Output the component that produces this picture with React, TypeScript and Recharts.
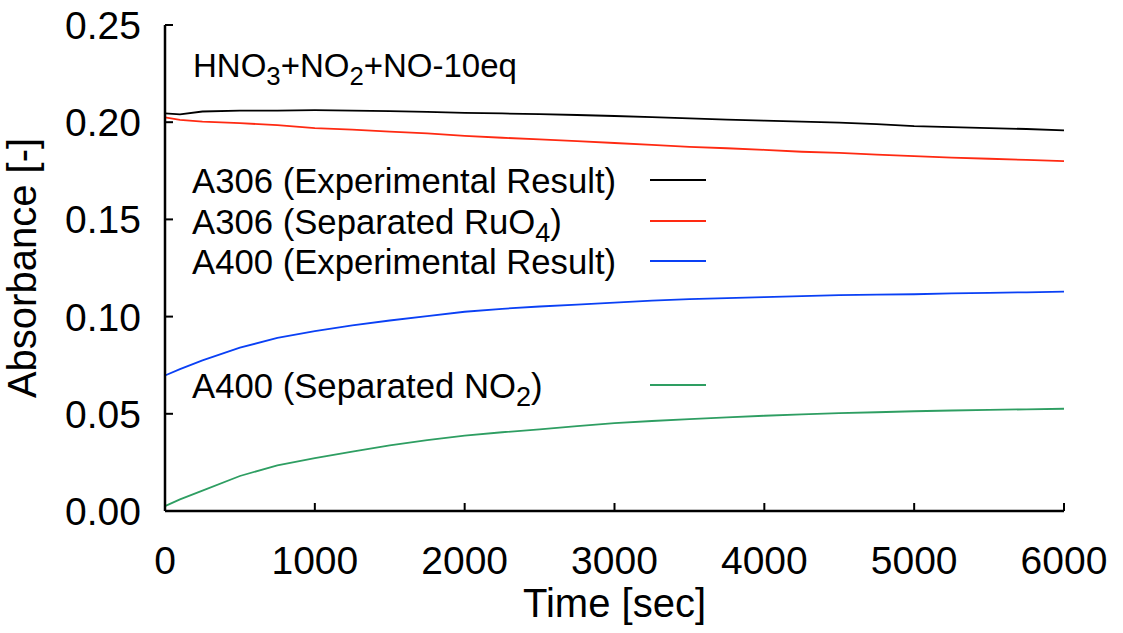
import { LineChart, Line, XAxis, YAxis, Legend } from 'recharts';

const times = [0, 100, 250, 500, 750, 1000, 1250, 1500, 1750, 2000, 2250, 2500, 2750, 3000, 3250, 3500, 3750, 4000, 4250, 4500, 4750, 5000, 5250, 5500, 5750, 6000];

const a306Exp = [0.2045, 0.2040, 0.2055, 0.2060, 0.2060, 0.2062, 0.2060, 0.2057, 0.2053, 0.2048, 0.2045, 0.2042, 0.2037, 0.2032, 0.2026, 0.2020, 0.2013, 0.2008, 0.2003, 0.1998, 0.1990, 0.1980, 0.1975, 0.1970, 0.1965, 0.1958];
const a306RuO4 = [0.2025, 0.2012, 0.2003, 0.1995, 0.1985, 0.1970, 0.1962, 0.1952, 0.1942, 0.1930, 0.1920, 0.1912, 0.1903, 0.1893, 0.1883, 0.1873, 0.1866, 0.1858, 0.1848, 0.1842, 0.1833, 0.1825, 0.1818, 0.1812, 0.1806, 0.1800];
const a400Exp = [0.0697, 0.0730, 0.0775, 0.0840, 0.0890, 0.0925, 0.0955, 0.0980, 0.1002, 0.1025, 0.1040, 0.1052, 0.1062, 0.1072, 0.1082, 0.1090, 0.1095, 0.1100, 0.1105, 0.1110, 0.1113, 0.1115, 0.1119, 0.1122, 0.1125, 0.1128];
const a400NO2 = [0.0025, 0.0060, 0.0105, 0.0180, 0.0235, 0.0272, 0.0305, 0.0338, 0.0365, 0.0388, 0.0405, 0.0420, 0.0437, 0.0452, 0.0463, 0.0473, 0.0482, 0.0490, 0.0497, 0.0503, 0.0508, 0.0513, 0.0517, 0.0520, 0.0523, 0.0526];

const xTicks = [0, 1000, 2000, 3000, 4000, 5000, 6000];
const yTicks = [0, 0.05, 0.1, 0.15, 0.2, 0.25];

const title = 'HNO3+NO2+NO-10eq';

const series = [
  { key: 'a306Exp', name: 'A306 (Experimental Result)', color: '#000000' },
  { key: 'a306RuO4', name: 'A306 (Separated RuO4)', color: '#ff2a12' },
  { key: 'a400Exp', name: 'A400 (Experimental Result)', color: '#0a40f5' },
  { key: 'a400NO2', name: 'A400 (Separated NO2)', color: '#2e9e62' },
];

const data = times.map((t, i) => ({
  t,
  a306Exp: a306Exp[i],
  a306RuO4: a306RuO4[i],
  a400Exp: a400Exp[i],
  a400NO2: a400NO2[i],
}));

// legend row baselines (px, within the chart)
const legendRows = [193, 234, 274, 398];

// "O" followed by a digit -> subscript digit
function subText(text: string, size: number) {
  const parts = text.split(/(?<=O)(\d)/g).filter((p) => p !== '');
  let shift = 0;
  return parts.map((p, i) => {
    const isSub = /^\d$/.test(p) && i > 0 && parts[i - 1].endsWith('O');
    const dy = isSub ? 8 : -shift;
    shift = isSub ? 8 : 0;
    return (
      <tspan key={i} dy={dy || undefined} fontSize={isSub ? size * 0.78 : undefined}>
        {p}
      </tspan>
    );
  });
}

const BottomTick = ({ x, y, payload }: any) => (
  <g>
    <line x1={x} x2={x} y1={y} y2={y - 8} stroke="#000" strokeWidth={2} />
    <text x={x} y={y + 63} textAnchor="middle" fontSize={39} fill="#000">
      {payload.value}
    </text>
  </g>
);

const LeftTick = ({ x, y, payload }: any) => (
  <g>
    <line x1={x} x2={x + 8} y1={y} y2={y} stroke="#000" strokeWidth={2} />
    <text x={x - 24} y={y + 14} textAnchor="end" fontSize={39} fill="#000">
      {payload.value.toFixed(2)}
    </text>
  </g>
);

const TopTick = ({ x, y }: any) => (
  <line x1={x} x2={x} y1={y} y2={y + 8} stroke="#000" strokeWidth={2} />
);

const RightTick = ({ x, y }: any) => (
  <line x1={x} x2={x - 8} y1={y} y2={y} stroke="#000" strokeWidth={2} />
);

const renderLegend = (props: any) => {
  const payload = props.payload || [];
  return (
    <svg width={1123} height={633} style={{ position: 'absolute', left: 0, top: 0 }}>
      <text x={193} y={77} fontSize={33} fill="#000">
        {subText(title, 33)}
      </text>
      {payload.map((entry: any, i: number) => (
        <g key={entry.value}>
          <text x={192} y={legendRows[i]} fontSize={34.7} fill="#000">
            {subText(entry.value, 34.7)}
          </text>
          <line
            x1={650}
            x2={706}
            y1={legendRows[i] - 13}
            y2={legendRows[i] - 13}
            stroke={entry.color}
            strokeWidth={1.8}
          />
        </g>
      ))}
    </svg>
  );
};

const axisLine = { stroke: '#000', strokeWidth: 2.5 };

export default function App() {
  return (
    <div
      style={{
        position: 'absolute',
        left: 0,
        top: 0,
        width: 1123,
        height: 633,
        background: '#fff',
        fontFamily: '"Liberation Sans", Arial, sans-serif',
      }}
    >
      <LineChart width={1123} height={633} data={data} margin={{ top: 25, right: 59, left: 0, bottom: 0 }}>
        <XAxis
          dataKey="t"
          type="number"
          domain={[0, 6000]}
          ticks={xTicks}
          interval={0}
          height={122}
          tickSize={0}
          tickMargin={0}
          tickLine={false}
          axisLine={axisLine}
          tick={<BottomTick />}
          label={{ value: 'Time [sec]', position: 'insideBottom', offset: 16, fontSize: 40, fill: '#000' }}
        />
        <XAxis
          xAxisId="top"
          orientation="top"
          dataKey="t"
          type="number"
          domain={[0, 6000]}
          ticks={xTicks}
          interval={0}
          height={0}
          tickSize={0}
          tickMargin={0}
          tickLine={false}
          axisLine={axisLine}
          tick={<TopTick />}
        />
        <YAxis
          type="number"
          domain={[0, 0.25]}
          ticks={yTicks}
          interval={0}
          width={165}
          tickSize={0}
          tickMargin={0}
          tickLine={false}
          axisLine={axisLine}
          tick={<LeftTick />}
          label={{
            value: 'Absorbance [-]',
            angle: -90,
            position: 'insideLeft',
            offset: 22,
            fontSize: 40,
            fill: '#000',
            style: { textAnchor: 'middle' },
          }}
        />
        <YAxis
          yAxisId="right"
          orientation="right"
          type="number"
          domain={[0, 0.25]}
          ticks={yTicks}
          interval={0}
          width={0}
          tickSize={0}
          tickMargin={0}
          tickLine={false}
          axisLine={axisLine}
          tick={<RightTick />}
        />
        <Legend
          layout="vertical"
          align="center"
          verticalAlign="middle"
          content={renderLegend}
          wrapperStyle={{ position: 'absolute', left: 0, top: 0, width: 1123, height: 633, pointerEvents: 'none' }}
        />
        {series.map((s) => (
          <Line
            key={s.key}
            dataKey={s.key}
            name={s.name}
            stroke={s.color}
            strokeWidth={1.8}
            type="linear"
            dot={false}
            activeDot={false}
            isAnimationActive={false}
          />
        ))}
      </LineChart>
    </div>
  );
}
